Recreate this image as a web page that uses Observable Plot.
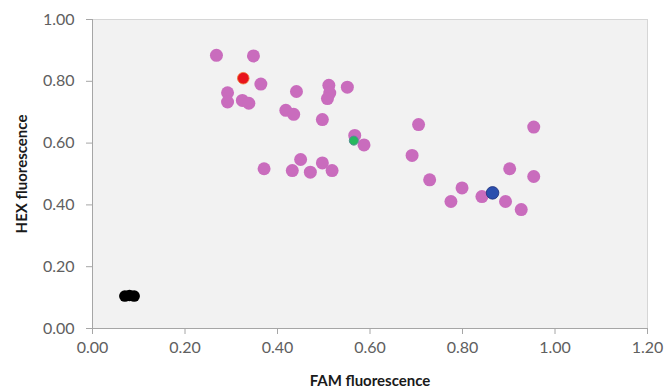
<!DOCTYPE html>
<html>
<head>
<meta charset="utf-8">
<script src="https://cdn.jsdelivr.net/npm/d3@7"></script>
<script src="https://cdn.jsdelivr.net/npm/@observablehq/plot@0.6"></script>
<style>
  html, body { margin: 0; padding: 0; background: #fff; }
  #chart svg { display: block; }
  #chart svg [aria-label$="axis label"] text { font-weight: bold; fill: #1a1a1a; font-size: 15px; }
  #chart svg [aria-label$="axis tick label"] text { fill: #606060; }
</style>
</head>
<body>
<div id="chart"></div>
<script>
const xTicks = [0, 0.2, 0.4, 0.6, 0.8, 1.0, 1.2];
const yTicks = [0, 0.2, 0.4, 0.6, 0.8, 1.0];
const xTitle = "FAM fluorescence";
const yTitle = "HEX fluorescence";

const pinkFAM = [0.268, 0.348, 0.364, 0.292, 0.292, 0.324, 0.338, 0.441, 0.418, 0.435,
                 0.511, 0.513, 0.508, 0.551, 0.497, 0.567, 0.587, 0.371, 0.432, 0.450,
                 0.471, 0.497, 0.518, 0.705, 0.691, 0.729, 0.799, 0.775, 0.842, 0.893,
                 0.927, 0.902, 0.954, 0.954];
const pinkHEX = [0.884, 0.882, 0.791, 0.763, 0.733, 0.738, 0.729, 0.767, 0.706, 0.693,
                 0.787, 0.762, 0.744, 0.781, 0.676, 0.625, 0.594, 0.517, 0.511, 0.547,
                 0.506, 0.536, 0.511, 0.660, 0.560, 0.481, 0.455, 0.411, 0.427, 0.411,
                 0.385, 0.517, 0.652, 0.492];

const redFAM = [0.326];   const redHEX = [0.810];
const greenFAM = [0.565]; const greenHEX = [0.608];
const blueFAM = [0.865];  const blueHEX = [0.439];
const blackFAM = [0.070, 0.080, 0.090]; const blackHEX = [0.105, 0.107, 0.105];

const toPts = (xs, ys) => xs.map((x, i) => ({x, y: ys[i]}));
const pink = toPts(pinkFAM, pinkHEX);
const red = toPts(redFAM, redHEX);
const green = toPts(greenFAM, greenHEX);
const blue = toPts(blueFAM, blueHEX);
const black = toPts(blackFAM, blackHEX);

const fmt = d3.format(".2f");

const chart = Plot.plot({
  width: 669,
  height: 392,
  marginLeft: 92,
  marginRight: 22,
  marginTop: 19,
  marginBottom: 64,
  style: {fontFamily: "Lato, 'Liberation Sans', sans-serif", fontSize: "16px", background: "#fff", overflow: "visible"},
  x: {domain: [0, 1.2]},
  y: {domain: [0, 1]},
  marks: [
    Plot.frame({fill: "#f2f2f2", stroke: "#d6d6d6"}),
    Plot.axisX({ticks: xTicks, tickFormat: fmt, tickSize: 6, tickPadding: 7, stroke: "#a6a6a6",
                label: xTitle, labelAnchor: "center", labelArrow: "none", labelOffset: 57}),
    Plot.axisY({ticks: yTicks, tickFormat: fmt, tickSize: 6, tickPadding: 12, stroke: "#a6a6a6",
                label: yTitle, labelAnchor: "center", labelArrow: "none", labelOffset: 76}),
    Plot.ruleX([0], {stroke: "#a6a6a6"}),
    Plot.ruleY([0], {stroke: "#a6a6a6"}),
    Plot.dot(pink, {x: "x", y: "y", r: 6.5, fill: "#c96cbd", stroke: "none"}),
    Plot.dot(red, {x: "x", y: "y", r: 5.8, fill: "#e8141c", stroke: "#f07a3a", strokeWidth: 0.8}),
    Plot.dot(green, {x: "x", y: "y", r: 4.5, fill: "#27b85e", stroke: "#4f8f8f", strokeWidth: 1}),
    Plot.dot(blue, {x: "x", y: "y", r: 6.3, fill: "#2b4fae", stroke: "#1d2f7a", strokeWidth: 0.8}),
    Plot.dot(black, {x: "x", y: "y", r: 5.8, fill: "#000", stroke: "none"})
  ]
});
document.getElementById("chart").appendChild(chart);
</script>
</body>
</html>
